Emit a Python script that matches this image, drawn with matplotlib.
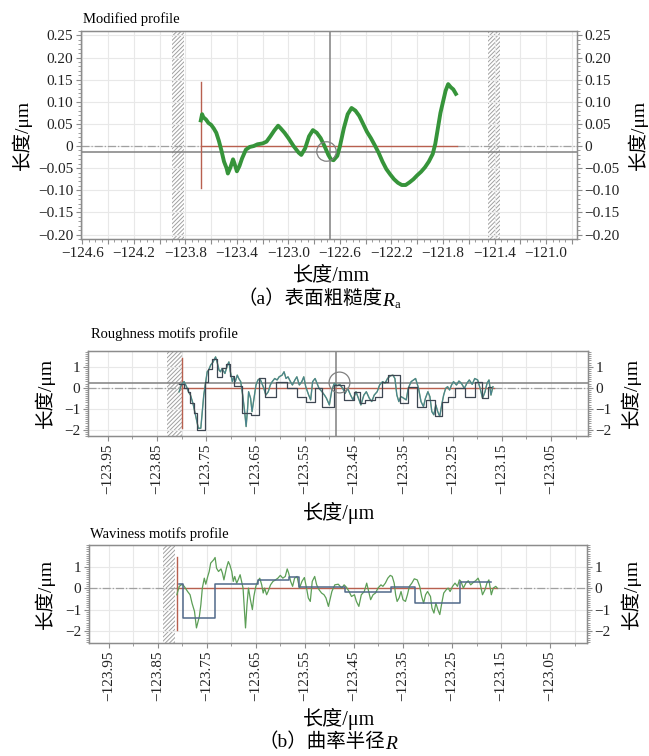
import numpy as np
import matplotlib
matplotlib.use('Agg')
import matplotlib.pyplot as plt
from matplotlib.ticker import MultipleLocator, FuncFormatter

plt.rcParams['font.family'] = ['Liberation Serif', 'Noto Sans CJK SC']
plt.rcParams['hatch.linewidth'] = 0.7
plt.rcParams['hatch.color'] = '#a0a0a0'

# (a) modified profile, x in mm, height in um
mod_x = [-123.68, -123.67, -123.66, -123.64, -123.62, -123.60, -123.58, -123.56, -123.54, -123.52,
         -123.50, -123.48, -123.47, -123.45, -123.43, -123.42, -123.40, -123.38, -123.36, -123.33,
         -123.30, -123.27, -123.24, -123.20, -123.17, -123.14, -123.11, -123.08, -123.06, -123.03,
         -123.00, -122.96, -122.92, -122.90, -122.87, -122.84, -122.81, -122.78, -122.75, -122.72,
         -122.69, -122.67, -122.65, -122.62, -122.60, -122.57, -122.54, -122.51, -122.48, -122.45,
         -122.42, -122.39, -122.36, -122.33, -122.30, -122.27, -122.24, -122.21, -122.18, -122.15,
         -122.12, -122.09, -122.06, -122.03, -122.00, -121.97, -121.94, -121.91, -121.88, -121.86,
         -121.84, -121.82, -121.80, -121.78, -121.76, -121.74, -121.72, -121.70]
mod_y = [0.058, 0.072, 0.065, 0.060, 0.052, 0.048, 0.040, 0.030, 0.012, -0.010,
         -0.035, -0.050, -0.062, -0.048, -0.030, -0.038, -0.057, -0.045, -0.028, -0.008,
         -0.002, 0.000, 0.004, 0.006, 0.010, 0.022, 0.035, 0.046, 0.040, 0.030,
         0.018, 0.000, -0.015, -0.020, -0.005, 0.022, 0.036, 0.030, 0.018, 0.000,
         -0.020, -0.030, -0.032, -0.022, 0.000, 0.040, 0.072, 0.086, 0.080, 0.068,
         0.050, 0.032, 0.018, 0.002, -0.015, -0.035, -0.052, -0.064, -0.075, -0.083,
         -0.088, -0.088, -0.082, -0.075, -0.066, -0.058, -0.048, -0.035, -0.018, 0.005,
         0.040, 0.075, 0.100, 0.125, 0.140, 0.133, 0.128, 0.118]

# (b) roughness motifs profile
rough_x = [-123.805, -123.800, -123.795, -123.790, -123.786, -123.782, -123.777, -123.772, -123.766, -123.761,
           -123.758, -123.755, -123.751, -123.748, -123.745, -123.741, -123.736, -123.731, -123.728, -123.724,
           -123.721, -123.718, -123.712, -123.707, -123.704, -123.701, -123.697, -123.694, -123.691, -123.687,
           -123.684, -123.680, -123.676, -123.672, -123.669, -123.666, -123.664, -123.660, -123.657, -123.653,
           -123.649, -123.645, -123.641, -123.637, -123.633, -123.629, -123.624, -123.620, -123.616, -123.611,
           -123.606, -123.602, -123.596, -123.592, -123.588, -123.584, -123.579, -123.575, -123.570, -123.566,
           -123.561, -123.556, -123.552, -123.548, -123.542, -123.538, -123.534, -123.529, -123.525, -123.521,
           -123.515, -123.510, -123.506, -123.500,
           -123.495, -123.490, -123.484, -123.479, -123.473, -123.468, -123.463, -123.457, -123.452, -123.446,
           -123.441, -123.436, -123.430, -123.425, -123.419, -123.414, -123.409, -123.403, -123.398, -123.392,
           -123.387, -123.382, -123.376, -123.371, -123.367, -123.363, -123.359, -123.355, -123.349, -123.344,
           -123.340, -123.334, -123.329, -123.325, -123.319, -123.314, -123.309, -123.305, -123.300, -123.296,
           -123.292, -123.288, -123.284, -123.280, -123.276, -123.272, -123.268, -123.264, -123.260, -123.256,
           -123.252, -123.248, -123.242, -123.237, -123.232, -123.226, -123.221, -123.216, -123.210, -123.205,
           -123.199, -123.194, -123.189, -123.184, -123.180, -123.176, -123.172, -123.168]
rough_y = [-0.19, 0.16, 0.29, 0.05, -0.19, -0.35, -0.74, -1.29, -1.93, -1.93,
           -1.14, -0.35, 0.29, 0.76, 0.84, 1.08, 1.23, 1.47, 1.23, 0.84,
           0.76, 0.92, 0.68, 1.08, 1.23, 0.76, 0.29, 0.52, 0.29, 0.60,
           0.44, 0.29, -0.35, -1.14, -1.85, -0.98, -0.19, -0.50, -1.14, -0.50,
           0.13, 0.37, 0.44, 0.21, -0.03, -0.35, -0.19, 0.13, 0.29, 0.44,
           0.37, 0.52, 0.60, 0.76, 0.44, 0.52, 0.29, 0.13, 0.37, 0.52,
           0.13, 0.29, 0.52, 0.05, -0.35, -0.58, 0.29, 0.44, 0.21, -0.03,
           -0.19, -0.35, -0.50, -0.82,
           -0.11, 0.21, 0.10, 0.16, -0.03, -0.27, -0.03, -0.35, -0.58, -0.19,
           -0.50, -0.82, -0.35, -0.19, -0.50, -0.66, -0.35, -0.19, 0.13, 0.29,
           0.21, 0.44, 0.57, 0.60, 0.44, -0.35, -0.66, -0.42, -0.50, -0.58,
           -0.03, 0.29, 0.37, 0.44, -0.03, -0.66, -0.90, -0.50, -0.19, -0.42,
           -1.14, -1.29, -0.82, -1.14, -1.37, -0.82, -0.35, -0.03, 0.05, -0.11,
           0.13, 0.29, 0.13, 0.32, 0.21, -0.03, 0.21, 0.37, 0.16, 0.44,
           0.37, -0.03, -0.50, -0.19, 0.21, 0.37, -0.35, 0.05]
rough_edges = [-123.805, -123.795, -123.788, -123.782, -123.775, -123.768, -123.753, -123.746, -123.738,
               -123.728, -123.718, -123.709, -123.701, -123.694, -123.678, -123.660, -123.643, -123.630,
               -123.608, -123.586, -123.566, -123.548, -123.529, -123.514, -123.491, -123.471, -123.451,
               -123.437, -123.427, -123.407, -123.394, -123.380, -123.357, -123.340, -123.323, -123.303,
               -123.286, -123.272, -123.259, -123.245, -123.225, -123.205, -123.191, -123.178, -123.171]
rough_levels = [0.16, 0.0, -0.19, -0.74, -1.21, -2.0, 0.25, 0.89, 1.39, 0.52, 0.92, 1.15, 0.57, 0.1,
                -1.21, -1.29, 0.44, -0.42, 0.29, 0.0, -0.42, -0.66, -0.03, -0.9,
                0.13, -0.58, -0.19, -0.74, -0.58, -0.42, 0.29, 0.60, -0.74, 0.05, -0.90, -0.58,
                -1.37, -0.66, -0.42, -0.03, -0.42, 0.29, -0.50, 0.05]

# (b) waviness motifs profile
wav_x = [-123.811, -123.806, -123.800, -123.796, -123.789, -123.784, -123.780, -123.775, -123.771, -123.765,
         -123.762, -123.759, -123.755, -123.752, -123.748, -123.745, -123.742, -123.736, -123.733, -123.730,
         -123.726, -123.721, -123.718, -123.715, -123.710, -123.706, -123.703, -123.699, -123.696, -123.693,
         -123.689, -123.686, -123.682, -123.679, -123.676, -123.673, -123.671, -123.668, -123.665, -123.661,
         -123.657, -123.654, -123.650, -123.646, -123.642, -123.638, -123.635, -123.632, -123.628, -123.625,
         -123.620, -123.615, -123.610, -123.605, -123.600, -123.595, -123.590, -123.586, -123.583, -123.579,
         -123.575, -123.571, -123.566, -123.561, -123.556, -123.551, -123.546, -123.543, -123.539, -123.535,
         -123.530, -123.526, -123.521, -123.516, -123.511, -123.507, -123.502,
         -123.495, -123.489, -123.482, -123.475, -123.470, -123.465, -123.460, -123.455, -123.449, -123.445,
         -123.440, -123.435, -123.429, -123.424, -123.420, -123.416, -123.411, -123.406, -123.401, -123.395,
         -123.391, -123.386, -123.381, -123.376, -123.372, -123.368, -123.365, -123.362, -123.358, -123.354,
         -123.350, -123.345, -123.341, -123.337, -123.332, -123.327, -123.321, -123.316, -123.312, -123.308,
         -123.304, -123.300, -123.294, -123.291, -123.287, -123.283, -123.279, -123.275, -123.271, -123.267,
         -123.262, -123.258, -123.254, -123.249, -123.244, -123.239, -123.235, -123.232, -123.227, -123.222,
         -123.217, -123.212, -123.206, -123.202, -123.197, -123.193, -123.188, -123.183, -123.179, -123.175,
         -123.170, -123.166, -123.161, -123.158]
wav_y = [-0.31, 0.08, 0.18, 0.08, -0.16, -0.31, -0.70, -1.08, -1.85, -1.31,
         -0.77, 0.00, 0.46, 0.18, 0.54, 0.77, 1.16, 1.31, 1.42, 0.92,
         0.77, 0.89, 0.69, 0.38, 0.92, 1.23, 1.08, 0.77, 0.31, 0.54,
         0.23, 0.38, 0.62, 0.31, 0.00, -1.08, -1.85, -0.77, 0.00, -0.54,
         -1.00, -0.39, 0.08, 0.31, 0.46, 0.15, -0.23, 0.00, -0.31, -0.16,
         0.15, 0.31, 0.38, 0.46, 0.59, 0.46, 0.54, 0.89, 0.69, 0.31,
         0.08, 0.46, 0.54, 0.00, 0.31, 0.49, -0.08, -0.46, -0.62, 0.31,
         0.54, 0.15, -0.08, -0.23, -0.31, -0.46, -0.85,
         -0.16, 0.15, 0.18, 0.00, 0.15, 0.03, -0.16, -0.39, -0.31, -0.62,
         -0.85, -0.31, -0.16, 0.23, -0.16, -0.54, -0.31, -0.23, 0.00, 0.15,
         0.08, 0.23, 0.46, 0.59, 0.54, 0.23, -0.31, -0.62, -0.46, -0.16,
         -0.54, -0.62, -0.31, 0.08, 0.23, 0.43, 0.38, 0.08, -0.39, -0.70,
         -0.31, -0.16, -0.39, -0.93, -1.16, -0.70, -1.00, -1.23, -0.70, -0.23,
         -0.08, 0.00, -0.16, 0.08, 0.23, 0.08, 0.38, 0.31, 0.00, 0.23,
         0.34, 0.15, 0.28, 0.34, 0.46, 0.23, -0.31, -0.08, 0.23, 0.38,
         -0.31, 0.00, 0.08, 0.00]
wav_edges = [-123.806, -123.798, -123.733, -123.645, -123.582, -123.561, -123.468, -123.374,
             -123.325, -123.233, -123.171]
wav_levels = [0.18, -1.39, 0.19, 0.38, 0.53, 0.03, -0.16, 0.03, -0.67, 0.28]

W, H = 649, 756
fig = plt.figure(figsize=(W / 100, H / 100), dpi=100)

GRAY = '#8c8c8c'
RED = '#b8604f'


def ftext(px, py, s, **kw):
    return fig.text(px / W, 1 - py / H, s, **kw)


def add_axes(l, t, r, b):
    return fig.add_axes([l / W, 1 - b / H, (r - l) / W, (b - t) / H])


def steps(ax, edges, levels, **kw):
    # motif rectangles drawn as a step outline
    xs = np.repeat(edges, 2)[1:-1]
    ys = np.repeat(levels, 2)
    ax.plot(xs, ys, **kw)


def style(ax, ylim, yticks, yfmt, yminor):
    ax.set_ylim(ylim)
    ax.set_yticks(yticks)
    ax.yaxis.set_major_formatter(FuncFormatter(yfmt))
    ax.yaxis.set_minor_locator(MultipleLocator(yminor))
    for sp in ax.spines.values():
        sp.set_color(GRAY)
        sp.set_linewidth(1.0)
    ax.tick_params(which='both', colors=GRAY, labelcolor='#222222', labelsize=11, pad=2)
    ax.tick_params(which='major', length=3.5)
    ax.tick_params(which='minor', length=2)
    tw = ax.twinx()
    tw.set_ylim(ylim)
    tw.set_yticks(yticks)
    tw.yaxis.set_major_formatter(FuncFormatter(yfmt))
    tw.yaxis.set_minor_locator(MultipleLocator(yminor))
    for sp in tw.spines.values():
        sp.set_color(GRAY)
    tw.tick_params(which='both', colors=GRAY, labelcolor='#222222', labelsize=11, pad=2)
    tw.tick_params(which='major', length=3.5)
    tw.tick_params(which='minor', length=2)
    return tw


def fmt_a(v, pos):
    if abs(v) < 1e-9:
        return '0'
    return f'{v:.2f}'.replace('-', '\u2212')


def fmt_int(v, pos):
    return f'{v:.0f}'.replace('-', '\u2212')


# ---------------- (a) ----------------
ax = add_axes(81, 31, 577, 239)
ax.set_xlim(-124.61, -120.76)
ax.xaxis.set_major_locator(MultipleLocator(0.2))
ax.xaxis.set_minor_locator(MultipleLocator(0.05))
ax.xaxis.set_major_formatter(FuncFormatter(
    lambda v, p: f'{v:.1f}'.replace('-', '\u2212') if round((v + 124.6) / 0.2) % 2 == 0 else ''))
ax.grid(True, which='major', color='#e8e8e8', lw=0.8)
style(ax, (-0.21, 0.26), np.arange(-0.20, 0.26, 0.05), fmt_a, 0.01)
ax.axvspan(-123.90, -123.81, facecolor='none', hatch='////////', lw=0)
ax.axvspan(-121.45, -121.36, facecolor='none', hatch='////////', lw=0)
ax.axhline(-0.013, color='#808080', lw=1.1)
ax.axvline(-122.68, color='#808080', lw=1.1)
ax.plot([-124.61, -123.68], [0, 0], color='#a0a0a0', lw=0.9, ls='-.')
ax.plot([-121.69, -120.76], [0, 0], color='#a0a0a0', lw=0.9, ls='-.')
ax.plot([-123.68, -121.69], [0, 0], color=RED, lw=1.0)
ax.plot([-123.68, -123.68], [-0.095, 0.145], color=RED, lw=1.0)
ax.plot(mod_x, mod_y, color='#36943a', lw=2.8)
ax.plot([-122.71], [-0.012], marker='o', ms=14, mfc='none', mec='#808080', mew=0.9)

ftext(83, 19, 'Modified profile', fontsize=10.5, ha='left', va='center')
ftext(22, 135, '长度/μm', fontsize=14, rotation=90, ha='center', va='center')
ftext(638, 135, '长度/μm', fontsize=14, rotation=90, ha='center', va='center')
ftext(331, 276, '长度/mm', fontsize=14.5, ha='center', va='center')
cap_a = ftext(310, 299, '（a）表面粗糙度', fontsize=14, ha='center', va='center')
ra = fig.add_artist(plt.Annotation('R', xy=(1, 0), xycoords=cap_a, fontsize=14, style='italic',
                                   va='bottom', ha='left', xytext=(0, -1), textcoords='offset points'))
fig.add_artist(plt.Annotation('a', xy=(1, 0), xycoords=ra, fontsize=9, va='bottom', ha='left',
                              xytext=(0, -1), textcoords='offset points'))


# ---------------- (b) ----------------
def motif_axes(l, t, r, b, ylim):
    ax = add_axes(l, t, r, b)
    ax.set_xlim(-123.99, -122.975)
    ax.set_xticks(np.arange(-123.95, -123.0, 0.1))
    ax.xaxis.set_major_formatter(FuncFormatter(lambda v, p: f'{v:.2f}'.replace('-', '\u2212')))
    ax.xaxis.set_minor_locator(MultipleLocator(0.05))
    ax.tick_params(axis='x', labelrotation=90)
    ax.grid(True, axis='x', which='both', color='#e8e8e8', lw=0.8)
    ax.grid(True, axis='y', which='major', color='#e8e8e8', lw=0.8)
    style(ax, ylim, [-2, -1, 0, 1], fmt_int, 0.1)
    return ax


ax1 = motif_axes(88, 351, 588, 436, (-2.3, 1.75))
ax1.axvspan(-123.83, -123.80, facecolor='none', hatch='////////', lw=0)
ax1.axhline(0.24, color='#808080', lw=1.1)
ax1.axvline(-123.486, color='#808080', lw=1.1)
ax1.plot([-123.99, -123.80], [0, 0], color='#a0a0a0', lw=0.9, ls='-.')
ax1.plot([-123.166, -122.975], [0, 0], color='#a0a0a0', lw=0.9, ls='-.')
ax1.plot([-123.80, -123.166], [0, 0], color=RED, lw=1.0)
ax1.plot([-123.80, -123.80], [-1.9, 1.4], color=RED, lw=1.0)
ax1.plot(rough_x, rough_y, color='#6ba35e', lw=1.0)
ax1.plot(rough_x, rough_y, color='#3f77a3', lw=0.8, alpha=0.75)
steps(ax1, rough_edges, rough_levels, color='#3e4752', lw=0.9)
ax1.plot([-123.48], [0.27], marker='o', ms=15, mfc='none', mec='#808080', mew=0.9)

ftext(91, 334, 'Roughness motifs profile', fontsize=10.5, ha='left', va='center')
ftext(45, 393, '长度/μm', fontsize=14, rotation=90, ha='center', va='center')
ftext(631, 393, '长度/μm', fontsize=14, rotation=90, ha='center', va='center')
ftext(339, 513, '长度/μm', fontsize=14.5, ha='center', va='center')

ax2 = motif_axes(89, 545, 587, 643, (-2.55, 2.0))
ax2.axvspan(-123.84, -123.814, facecolor='none', hatch='////////', lw=0)
ax2.plot([-123.99, -123.81], [0, 0], color='#a0a0a0', lw=0.9, ls='-.')
ax2.plot([-123.158, -122.975], [0, 0], color='#a0a0a0', lw=0.9, ls='-.')
ax2.plot([-123.81, -123.158], [0, 0], color=RED, lw=1.0)
ax2.plot([-123.81, -123.81], [-1.93, 1.46], color=RED, lw=1.0)
ax2.plot(wav_x, wav_y, color='#5c9e56', lw=0.9)
steps(ax2, wav_edges, wav_levels, color='#51698a', lw=1.1)

ftext(90, 534, 'Waviness motifs profile', fontsize=10.5, ha='left', va='center')
ftext(45, 594, '长度/μm', fontsize=14, rotation=90, ha='center', va='center')
ftext(631, 594, '长度/μm', fontsize=14, rotation=90, ha='center', va='center')
ftext(339, 719, '长度/μm', fontsize=14.5, ha='center', va='center')
cap_b = ftext(322, 742, '（b）曲率半径', fontsize=14, ha='center', va='center')
fig.add_artist(plt.Annotation('R', xy=(1, 0), xycoords=cap_b, fontsize=14, style='italic',
                              va='bottom', ha='left', xytext=(0, -1), textcoords='offset points'))

fig.savefig('out.png', dpi=100, facecolor='white')
